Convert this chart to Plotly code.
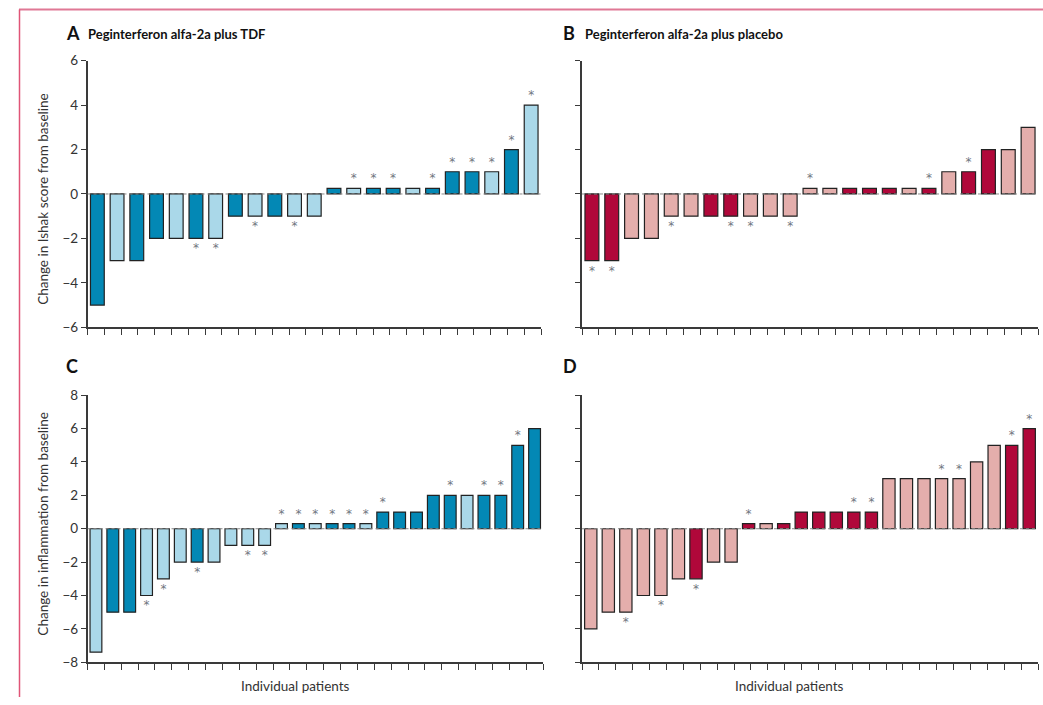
import numpy as np
import plotly.graph_objects as go

# ---------------- data ----------------
# Panel A: Peginterferon alfa-2a plus TDF, change in Ishak score
a_values = [-5, -3, -3, -2, -2, -2, -2, -1, -1, -1, -1, -1,
            0.25, 0.25, 0.25, 0.25, 0.25, 0.25, 1, 1, 1, 2, 4]
a_dark = [1, 0, 1, 1, 0, 1, 0, 1, 0, 1, 0, 0,
          1, 0, 1, 1, 0, 1, 1, 1, 0, 1, 0]
a_star = [0, 0, 0, 0, 0, 1, 1, 0, 1, 0, 1, 0,
          0, 1, 1, 1, 0, 1, 1, 1, 1, 1, 1]

# Panel B: Peginterferon alfa-2a plus placebo, change in Ishak score
b_values = [-3, -3, -2, -2, -1, -1, -1, -1, -1, -1, -1,
            0.25, 0.25, 0.25, 0.25, 0.25, 0.25, 0.25, 1, 1, 2, 2, 3]
b_dark = [1, 1, 0, 0, 0, 0, 1, 1, 0, 0, 0,
          0, 0, 1, 1, 1, 0, 1, 0, 1, 1, 0, 0]
b_star = [1, 1, 0, 0, 1, 0, 0, 1, 1, 0, 1,
          1, 0, 0, 0, 0, 0, 1, 0, 1, 0, 0, 0]

# Panel C: Peginterferon alfa-2a plus TDF, change in inflammation
c_values = [-7.4, -5, -5, -4, -3, -2, -2, -2, -1, -1, -1,
            0.3, 0.3, 0.3, 0.3, 0.3, 0.3, 1, 1, 1, 2, 2, 2, 2, 2, 5, 6]
c_dark = [0, 1, 1, 0, 0, 0, 1, 0, 0, 0, 0,
          0, 1, 0, 1, 1, 0, 1, 1, 1, 1, 1, 0, 1, 1, 1, 1]
c_star = [0, 0, 0, 1, 1, 0, 1, 0, 0, 1, 1,
          1, 1, 1, 1, 1, 1, 1, 0, 0, 0, 1, 0, 1, 1, 1, 0]

# Panel D: Peginterferon alfa-2a plus placebo, change in inflammation
d_values = [-6, -5, -5, -4, -4, -3, -3, -2, -2,
            0.3, 0.3, 0.3, 1, 1, 1, 1, 1, 3, 3, 3, 3, 3, 4, 5, 5, 6]
d_dark = [0, 0, 0, 0, 0, 0, 1, 0, 0,
          1, 0, 1, 1, 1, 1, 1, 1, 0, 0, 0, 0, 0, 0, 0, 1, 1]
d_star = [0, 0, 1, 0, 1, 0, 1, 0, 0,
          1, 0, 0, 0, 0, 0, 1, 1, 0, 0, 0, 1, 1, 0, 0, 1, 1]

panel_letters = ["A", "B", "C", "D"]
panel_titles = ["Peginterferon alfa-2a plus TDF", "Peginterferon alfa-2a plus placebo", "", ""]
y_titles = ["Change in Ishak score from baseline", "Change in inflammation from baseline"]
x_title = "Individual patients"

# ---------------- style ----------------
W, H = 1043, 705
FONT = "Lato"
BLUE_DARK, BLUE_LIGHT = "#0388B5", "#AAD8E9"
RED_DARK, RED_LIGHT = "#B0083A", "#E4AEAC"
AXIS = "#3a3a3a"
TXT = "#333333"
STAR = "#707680"


def px_x(p):
    return p / W


def px_y(p):
    # target screen row -> paper fraction (compensates the page's vertical offset/scale)
    d = max(0.0, (p - 8.0) / 0.978)
    return 1 - d / H


panels = [
    dict(v=a_values, d=a_dark, s=a_star, cols=(BLUE_DARK, BLUE_LIGHT),
         x0=87.5, x1=541, y0=60.7, y1=327.5, yr=[-6, 6], labels=True),
    dict(v=b_values, d=b_dark, s=b_star, cols=(RED_DARK, RED_LIGHT),
         x0=582, x1=1038, y0=60.7, y1=327.5, yr=[-6, 6], labels=False),
    dict(v=c_values, d=c_dark, s=c_star, cols=(BLUE_DARK, BLUE_LIGHT),
         x0=87.5, x1=543, y0=395.5, y1=662.7, yr=[-8, 8], labels=True),
    dict(v=d_values, d=d_dark, s=d_star, cols=(RED_DARK, RED_LIGHT),
         x0=582, x1=1038, y0=395.5, y1=662.7, yr=[-8, 8], labels=False),
]

fig = go.Figure()
layout = dict(
    width=W, height=H,
    margin=dict(l=0, r=0, t=0, b=0),
    paper_bgcolor="white", plot_bgcolor="white",
    showlegend=False,
    font=dict(family=FONT, color=TXT),
)
shapes = []
annotations = []

for i, p in enumerate(panels):
    k = "" if i == 0 else str(i + 1)
    n = len(p["v"])
    xs = list(range(n))
    colors = [p["cols"][0] if dk else p["cols"][1] for dk in p["d"]]
    texts = ["*" if s else "" for s in p["s"]]
    fig.add_trace(go.Bar(
        x=xs, y=p["v"], xaxis="x" + k, yaxis="y" + k,
        width=0.7,
        marker=dict(color=colors, line=dict(color="#222222", width=1.2)),
        text=texts, textposition="outside", constraintext="none",
        textfont=dict(color=STAR, size=12, family="DejaVu Sans"),
        cliponaxis=False, hoverinfo="skip",
    ))
    tickvals = list(np.linspace(-0.5, n - 0.5, 28))
    layout["xaxis" + k] = dict(
        domain=[px_x(p["x0"]), px_x(p["x1"])], anchor="y" + k,
        range=[-0.5, n - 0.5], showgrid=False, zeroline=False,
        showline=True, linecolor=AXIS, linewidth=1.5,
        ticks="outside", ticklen=6, tickwidth=1.3, tickcolor=AXIS,
        tickvals=tickvals, showticklabels=False,
    )
    layout["yaxis" + k] = dict(
        domain=[px_y(p["y1"]), px_y(p["y0"])], anchor="x" + k,
        range=p["yr"], dtick=2, tick0=0, showgrid=False, zeroline=False,
        showline=True, linecolor=AXIS, linewidth=1.5,
        ticks="outside", ticklen=5, tickwidth=1.3, tickcolor=AXIS,
        showticklabels=p["labels"],
        tickfont=dict(size=13.5, color=TXT, family=FONT),
    )
    # dotted zero line
    shapes.append(dict(
        type="line", xref="x" + k, yref="y" + k,
        x0=-0.5, x1=n - 0.5, y0=0, y1=0,
        line=dict(color="#8a8a8a", width=1, dash="dot"), layer="above",
    ))

# panel letters and titles
letter_pos = [(64, 33), (561, 33), (64, 366), (561, 366)]
for i, (lx, ly) in enumerate(letter_pos):
    annotations.append(dict(
        x=px_x(lx), y=px_y(ly), xref="paper", yref="paper",
        text="<b>" + panel_letters[i] + "</b>", showarrow=False,
        xanchor="left", yanchor="middle",
        font=dict(size=18, color="#111111", family=FONT),
    ))
    if panel_titles[i]:
        annotations.append(dict(
            x=px_x(lx + 22), y=px_y(ly + 1), xref="paper", yref="paper",
            text="<b>" + panel_titles[i] + "</b>", showarrow=False,
            xanchor="left", yanchor="middle",
            font=dict(size=13, color="#111111", family=FONT),
        ))

# y-axis titles
for (yy, t) in [(200, y_titles[0]), (524, y_titles[1])]:
    annotations.append(dict(
        x=px_x(43), y=px_y(yy), xref="paper", yref="paper",
        text=t, showarrow=False, textangle=-90,
        xanchor="center", yanchor="middle",
        font=dict(size=13.5, color=TXT, family=FONT),
    ))

# x-axis titles
for xx in (295, 789):
    annotations.append(dict(
        x=px_x(xx), y=px_y(686), xref="paper", yref="paper",
        text=x_title, showarrow=False,
        xanchor="center", yanchor="middle",
        font=dict(size=13.5, color=TXT, family=FONT),
    ))

# pink frame (top and left edges)
shapes.append(dict(type="line", xref="paper", yref="paper",
                   x0=px_x(19), x1=1.0, y0=1 - 1.5 / H, y1=1 - 1.5 / H,
                   line=dict(color="#E07895", width=2)))
shapes.append(dict(type="line", xref="paper", yref="paper",
                   x0=px_x(19.5), x1=px_x(19.5), y0=1 - 1.5 / H, y1=0,
                   line=dict(color="#E05577", width=1.5)))

layout["shapes"] = shapes
layout["annotations"] = annotations
fig.update_layout(**layout)

fig.write_html(
    "out.html",
    config={"displayModeBar": False},
    post_script=(
        "var s=document.createElement('style');"
        "s.textContent='html,body{margin:0!important;padding:0!important;overflow:hidden!important;}"
        "body>div{margin:0;padding:0;line-height:0;font-size:0;}';"
        "document.head.appendChild(s);window.scrollTo(0,0);"
    ),
)
